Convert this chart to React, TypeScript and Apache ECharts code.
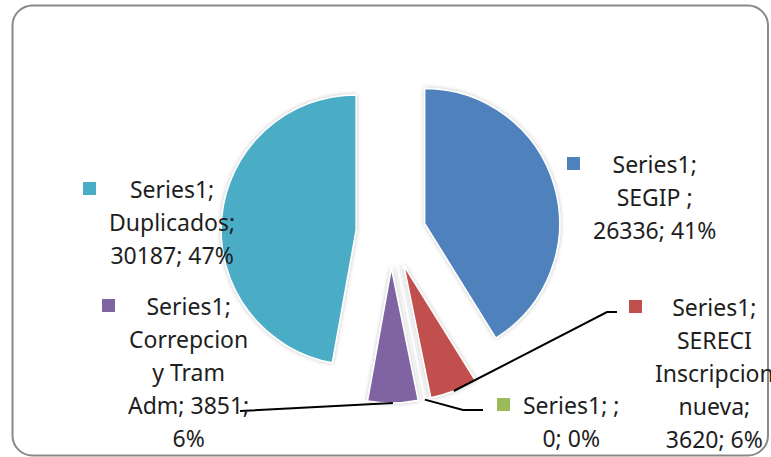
import React, { useEffect, useRef } from 'react';
import * as echarts from 'echarts';

// ---- data ----
const seriesName = 'Series1';
const categories = ['SEGIP ', 'SERECI Inscripcion nueva', '', 'Correpcion y Tram Adm', 'Duplicados'];
const values = [26336, 3620, 0, 3851, 30187];
const colors = ['#4F81BD', '#C0504D', '#9BBB59', '#8064A2', '#4BACC6'];

// ---- layout ----
const CW = 771;
const CH = 457;
const CX = 391;
const CY = 233;
const R = 135;
const OFFSET = 35;
const FONT_SIZE = 23;
const LINE_H = 33;
const FONT = '"Noto Sans", sans-serif';
// label block: [left of key square, top of block]
const labelPos = [
  [567, 147],
  [629, 290],
  [497, 388],
  [102, 289],
  [83, 172],
];
const wrapWidths = [130, 130, 110, 130, 130];
const showLeader = [false, true, true, true, false];
// leader line bend/end points relative to label block (null = midway point)
const leaderRel: (number[] | null)[][] = [
  [],
  [[-22, 22], [-12, 22]],
  [[-34, 22], [-14, 22]],
  [null, [138, 122]],
  [],
];

function measure(text: string) {
  const ctx = document.createElement('canvas').getContext('2d')!;
  ctx.font = `${FONT_SIZE}px ${FONT}`;
  return ctx.measureText(text).width;
}

function wrap(text: string, maxW: number) {
  const words = text.split(' ');
  const lines: string[] = [];
  let cur = '';
  for (const w of words) {
    const test = cur ? cur + ' ' + w : w;
    if (cur && measure(test) > maxW) {
      lines.push(cur);
      cur = w;
    } else cur = test;
  }
  if (cur) lines.push(cur);
  return lines;
}

const TRANSPARENT = 'rgba(0,0,0,0)';

export default function App() {
  const ref = useRef<HTMLDivElement>(null);
  useEffect(() => {
    if (!ref.current) return;
    const chart = echarts.init(ref.current, null, { renderer: 'svg' });
    const total = values.reduce((a, b) => a + b, 0);

    const midAngle = (i: number) => {
      let before = 0;
      for (let k = 0; k < i; k++) before += values[k];
      return ((before + values[i] / 2) / total) * 2 * Math.PI;
    };

    const hiddenItem = (name: string, v: number) => ({
      name,
      value: v,
      itemStyle: { color: TRANSPARENT, borderWidth: 0, shadowBlur: 0, shadowColor: TRANSPARENT },
      label: { show: false },
      labelLine: { show: false },
    });

    // one series per exploded slice (offset along its mid angle)
    const sectorSeries = categories.map((_, s) => {
      const m = midAngle(s);
      return {
        type: 'pie',
        name: seriesName,
        center: [CX + OFFSET * Math.sin(m), CY - OFFSET * Math.cos(m)],
        radius: [0, R],
        startAngle: 90,
        clockwise: true,
        silent: true,
        z: 2,
        emphasis: { disabled: true },
        label: { show: false },
        labelLine: { show: false },
        data: categories.map((name, i) =>
          i === s
            ? {
                name,
                value: values[i],
                itemStyle: {
                  color: colors[i],
                  borderColor: '#ffffff',
                  borderWidth: 1.5,
                  shadowBlur: 4,
                  shadowColor: 'rgba(0,0,0,0.25)',
                },
              }
            : hiddenItem(name, values[i])
        ),
      };
    });

    // data labels series (drawn above the slices)
    const labelItems = categories.map((name, i) => {
      const pct = Math.round((values[i] / total) * 100);
      const full = `${seriesName}; ${name}; ${values[i]}; ${pct}%`;
      const lines = wrap(full, wrapWidths[i]);
      const fmt = lines
        .map((l, j) => (j === 0 ? `{sq|}{gap|}{t|${l}}` : `{sp|}{t|${l}}`))
        .join('\n');
      return {
        name,
        value: values[i],
        itemStyle: { color: TRANSPARENT, borderWidth: 0, shadowBlur: 0, shadowColor: TRANSPARENT },
        label: {
          show: true,
          position: 'outside',
          formatter: fmt,
          rich: {
            sq: { width: 13, height: 13, backgroundColor: colors[i], align: 'left', lineHeight: LINE_H },
            gap: { width: 13, align: 'left', lineHeight: LINE_H },
            sp: { width: 26, align: 'left', lineHeight: LINE_H },
            t: {
              align: 'center',
              fontSize: FONT_SIZE,
              fontFamily: FONT,
              color: '#1e1e1e',
              lineHeight: LINE_H,
            },
          },
        },
        labelLine: { show: showLeader[i], lineStyle: { color: '#000', width: 2 } },
      };
    });

    const labelSeries = {
      type: 'pie',
      name: seriesName,
      center: [CX, CY],
      radius: [0, R],
      startAngle: 90,
      clockwise: true,
      silent: true,
      z: 3,
      avoidLabelOverlap: false,
      emphasis: { disabled: true },
      labelLayout: (p: any) => {
        const i = p.dataIndex;
        const [lx, ly] = labelPos[i];
        const out: any = { x: lx, y: ly, align: 'left', verticalAlign: 'top' };
        if (showLeader[i]) {
          const m = midAngle(i);
          const d = OFFSET + R;
          const a = [CX + d * Math.sin(m), CY - d * Math.cos(m)];
          const rel = leaderRel[i];
          const end = rel[rel.length - 1] as number[];
          const endPt = [lx + end[0], ly + end[1]];
          const pts = rel.map((r) =>
            r ? [lx + r[0], ly + r[1]] : [(a[0] + endPt[0]) / 2, (a[1] + endPt[1]) / 2]
          );
          out.labelLinePoints = [a, ...pts];
        }
        return out;
      },
      data: labelItems,
    };

    chart.setOption({
      animation: false,
      backgroundColor: '#ffffff',
      graphic: [
        {
          type: 'rect',
          shape: { x: 12.5, y: 5.5, width: 755.5, height: 450, r: 20 },
          style: { fill: 'none', stroke: '#898989', lineWidth: 2 },
          z: 0,
        },
      ],
      series: [...sectorSeries, labelSeries],
    });
    return () => chart.dispose();
  }, []);
  return (
    <div
      ref={ref}
      style={{ position: 'fixed', left: 0, top: 0, width: CW, height: CH, background: '#fff' }}
    />
  );
}
